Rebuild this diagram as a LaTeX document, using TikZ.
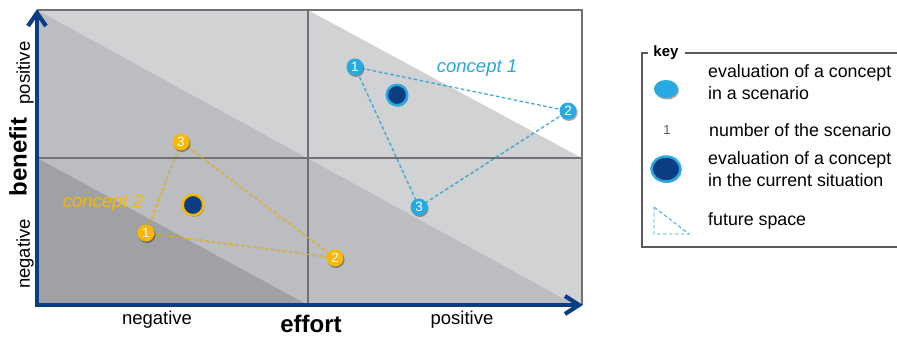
\documentclass[tikz,border=0pt]{standalone}
\usepackage{fontspec}
\setmainfont{Liberation Sans}
\usetikzlibrary{shadows,shapes.geometric}
\definecolor{navy}{HTML}{0B3D82}
\definecolor{cyanc}{HTML}{29A9E1}
\definecolor{amber}{HTML}{F8B800}
\definecolor{bandlight}{HTML}{D1D2D4}
\definecolor{bandmid}{HTML}{BCBDC0}
\definecolor{banddark}{HTML}{A0A1A4}
\definecolor{gridgray}{HTML}{707174}
\definecolor{keygray}{HTML}{5A5A5A}
\begin{document}
\begin{tikzpicture}[x=1pt,y=-1pt,
  txt/.style={font=\fontsize{18.5}{21.5}\selectfont, inner sep=0pt},
  keytxt/.style={font=\fontsize{17.8}{21.5}\selectfont, inner sep=0pt},
  boldtxt/.style={font=\fontsize{24}{26}\selectfont\bfseries, inner sep=0pt},
  gridline/.style={draw=gridgray, line width=1.4pt},
  axisline/.style={draw=navy, line width=3.6pt},
  chevron/.style={draw=navy, line width=4.2pt, line join=miter, miter limit=10},
  softshadow/.style={drop shadow={shadow xshift=1pt,shadow yshift=-1.5pt,opacity=0.35,fill=black}},
  scen/.style={circle, minimum size=17pt, inner sep=0pt, text=white,
    font=\fontsize{13.5}{13.5}\selectfont, softshadow},
  scenone/.style={scen, fill=cyanc},
  scentwo/.style={scen, fill=amber},
  current/.style={circle, minimum size=20.5pt, inner sep=0pt, fill=navy, line width=2.5pt, softshadow},
  spaceline/.style={dash pattern=on 3.5pt off 2.5pt, line width=1pt},
  lineshadow/.style={draw=black, opacity=0.10, line width=2pt, dash pattern=on 3.5pt off 2.5pt, shift={(1pt,1.8pt)}},
  keyline/.style={draw=keygray, line width=1.1pt}
]
\useasboundingbox (0,0) rectangle (897,337);
\clip (0,0) rectangle (897,337);

% shaded bands of the benefit/effort plane
\fill[bandlight] (37,10) rectangle (582,305);
\fill[white] (308,10) -- (582,10) -- (582,158) -- cycle;
\fill[bandmid] (37,10) -- (575,305) -- (37,305) -- cycle;
\fill[banddark] (37,158) -- (308,305) -- (37,305) -- cycle;

% quadrant lines and frame
\draw[gridline] (37,158) -- (582,158);
\draw[gridline] (308,10) -- (308,305);
\draw[gridline] (37,10) -- (582,10) -- (582,305);

% axes with open chevron heads
\coordinate (origin) at (37,305);
\coordinate (ytip) at (37,13);
\coordinate (xtip) at (579,305);
\draw[axisline] (37,306.8) -- (ytip);
\draw[axisline] (35.2,305) -- (xtip);
\draw[chevron] (28,26) -- (ytip) -- (46,26);
\draw[chevron] (565,296) -- (xtip) -- (565,314);

% axis labels
\node[boldtxt, rotate=90] (benefit) at (18,157) {benefit};
\node[txt, rotate=90] (bpos) at (25,73) {positive};
\node[txt, rotate=90] (bneg) at (25,254) {negative};
\node[boldtxt] (effort) at (311,324) {effort};
\node[txt] (eneg) at (157,320) {negative};
\node[txt] (epos) at (462,320) {positive};

% concept 1
\coordinate (p11) at (355,67);
\coordinate (p12) at (568,111);
\coordinate (p13) at (419,207);
\draw[lineshadow] (p11) -- (p12) -- (p13) -- cycle;
\draw[spaceline, cyanc] (p11) -- (p12) -- (p13) -- cycle;
\node[scenone] (c1s1) at (p11) {1};
\node[scenone] (c1s2) at (p12) {2};
\node[scenone] (c1s3) at (p13) {3};
\node[current, draw=cyanc] (c1now) at (397,95) {};
\node[txt, text=cyanc, font=\fontsize{18.5}{21.5}\selectfont\itshape] (c1name) at (477,68) {concept 1};

% concept 2
\coordinate (p21) at (146,233);
\coordinate (p22) at (335,258);
\coordinate (p23) at (181,142);
\draw[lineshadow] (p21) -- (p22) -- (p23) -- cycle;
\draw[spaceline, amber] (p21) -- (p22) -- (p23) -- cycle;
\node[scentwo] (c2s1) at (p21) {1};
\node[scentwo] (c2s2) at (p22) {2};
\node[scentwo] (c2s3) at (p23) {3};
\node[current, draw=amber] (c2now) at (193,205) {};
\node[txt, text=amber, font=\fontsize{18.5}{21.5}\selectfont\itshape] (c2name) at (103,203) {concept 2};

% key
\node[inner sep=0pt, font=\fontsize{15}{15}\selectfont\bfseries] (keyttl) at (666,53) {key};
\draw[keyline] (keyttl.west) ++(-5pt,0) -- (642,53) -- (642,247) -- (900,247);
\draw[keyline] (keyttl.east) ++(6pt,0) -- (900,53);

\node[ellipse, minimum width=24pt, minimum height=18pt, inner sep=0pt, fill=cyanc, softshadow] (kscen) at (666,89) {};
\node[keytxt, anchor=west, align=left] (kscentxt) at (708,82) {evaluation of a concept\\in a scenario};

\node[inner sep=0pt, text=keygray, font=\fontsize{13}{13}\selectfont] (knum) at (667,130) {1};
\node[keytxt, anchor=west] (knumtxt) at (709,130) {number of the scenario};

\node[ellipse, minimum width=29pt, minimum height=25pt, inner sep=0pt, fill=navy, draw=cyanc, line width=2.5pt, softshadow] (kcur) at (666,169) {};
\node[keytxt, anchor=west, align=left] (kcurtxt) at (708,169) {evaluation of a concept\\in the current situation};

\coordinate (kt1) at (654,207);
\coordinate (kt2) at (654,234);
\coordinate (kt3) at (689,234);
\draw[spaceline, cyanc, line width=0.9pt] (kt1) -- (kt2) -- (kt3) -- cycle;
\node[keytxt, anchor=west] (kspacetxt) at (708,221) {future space};
\end{tikzpicture}
\end{document}
